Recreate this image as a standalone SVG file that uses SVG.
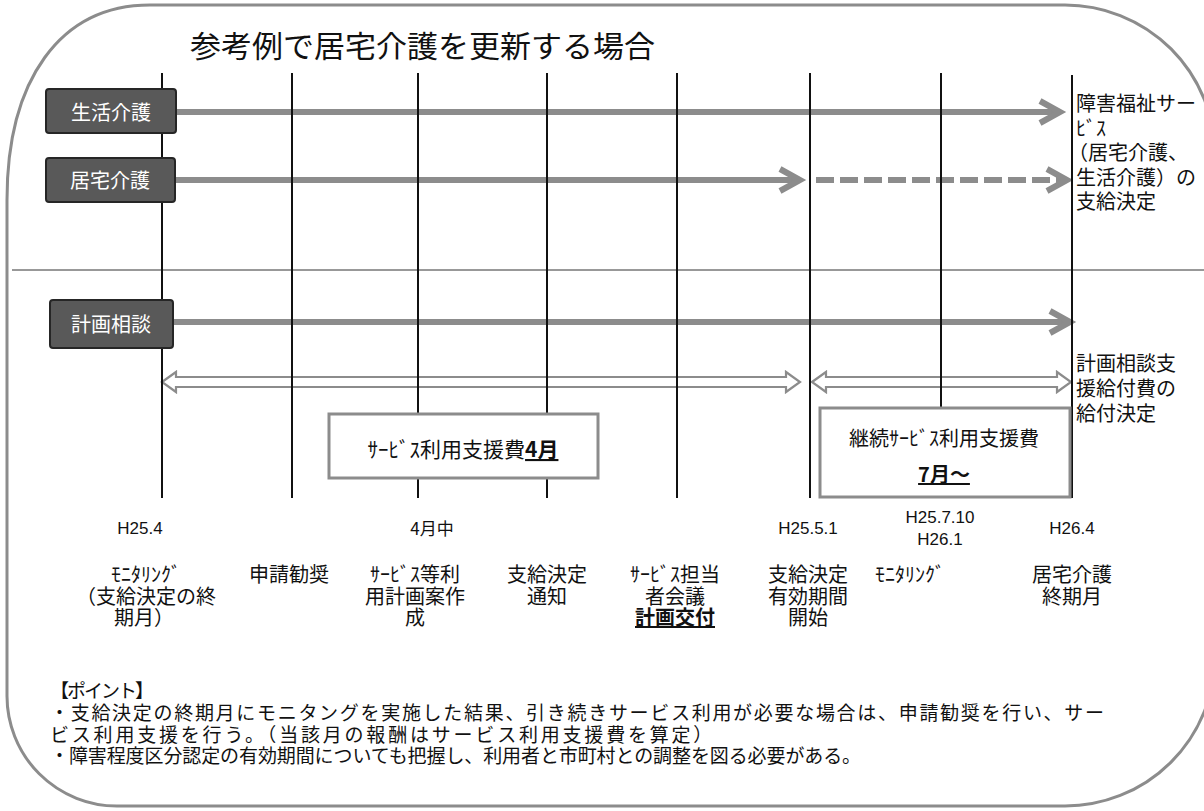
<svg xmlns="http://www.w3.org/2000/svg" width="1204" height="811" viewBox="0 0 1204 811">
<style>
  .jp { font-family: "Noto Sans CJK JP", "Noto Sans", sans-serif; fill: #111; }
  .lat { font-family: "Liberation Sans", "Noto Sans CJK JP", sans-serif; fill: #111; }
  .lbl { font-size: 20px; text-anchor: middle; }
  .date { font-size: 17px; text-anchor: middle; }
  .rowbox { fill: #595959; stroke: #262626; stroke-width: 2; }
  .rowtxt { font-family: "Noto Sans CJK JP", sans-serif; font-size: 20px; fill: #fff; text-anchor: middle; }
  .vline { stroke: #111; stroke-width: 2; }
  .garrow { stroke: #8c8c8c; stroke-width: 6; fill: none; }
  .ghead { stroke: #8c8c8c; stroke-width: 6; fill: none; stroke-linejoin: miter; stroke-linecap: butt; }
  .hollow { fill: #fff; stroke: #8c8c8c; stroke-width: 2.2; stroke-linejoin: miter; }
  .costbox { fill: #fff; stroke: #8c8c8c; stroke-width: 3; }
  .note { font-size: 20px; }
  .bu { font-weight: bold; text-decoration: underline; }
</style>

<g id="frame">
  <path d="M 7,200 C 7,80 60,5 150,5 L 1065,5 A 150 150 0 0 1 1215,155 L 1215,656 A 150 150 0 0 1 1065,806 L 117,806 A 110 110 0 0 1 7,696 Z" fill="none" stroke="#8c8c8c" stroke-width="3"/>
  <line x1="12" y1="270" x2="1204" y2="270" stroke="#333" stroke-width="1"/>
</g>

<g id="title">
  <text class="jp" x="190" y="57" font-size="30" textLength="465" lengthAdjust="spacingAndGlyphs">参考例で居宅介護を更新する場合</text>
</g>

<g id="connectors">
  <!-- 生活介護 -->
  <line class="garrow" x1="176" y1="112" x2="1057" y2="112"/>
  <polyline class="ghead" points="1040,101 1060,112 1040,123"/>
  <!-- 居宅介護 solid -->
  <line class="garrow" x1="175" y1="180" x2="797" y2="180"/>
  <polyline class="ghead" points="780,169 800,180 780,191"/>
  <!-- 居宅介護 dashed -->
  <line class="garrow" x1="816" y1="180" x2="1062" y2="180" stroke-dasharray="18 6"/>
  <polyline class="ghead" points="1047,169 1067,180 1047,191"/>
  <!-- 計画相談 -->
  <line class="garrow" x1="173" y1="322" x2="1067" y2="322"/>
  <polyline class="ghead" points="1050,311 1070,322 1050,333"/>
  <!-- hollow double arrows -->
  <polygon class="hollow" points="162,382 176,372 176,377 786,377 786,372 800,382 786,392 786,387 176,387 176,392"/>
  <polygon class="hollow" points="812,382 826,372 826,377 1057,377 1057,372 1071,382 1057,392 1057,387 826,387 826,392"/>
  <!-- vertical timeline lines -->
  <line class="vline" x1="162" y1="73" x2="162" y2="498"/>
  <line class="vline" x1="292" y1="73" x2="292" y2="498"/>
  <line class="vline" x1="418" y1="73" x2="418" y2="498"/>
  <line class="vline" x1="547" y1="73" x2="547" y2="498"/>
  <line class="vline" x1="677" y1="73" x2="677" y2="498"/>
  <line class="vline" x1="810" y1="73" x2="810" y2="498"/>
  <line class="vline" x1="941" y1="73" x2="941" y2="498"/>
  <line class="vline" x1="1072" y1="75" x2="1072" y2="498"/>
</g>

<g id="node-seikatsu">
  <rect class="rowbox" x="46" y="89" width="130" height="44" rx="3"/>
  <text class="rowtxt" x="111" y="120">生活介護</text>
</g>
<g id="node-kyotaku">
  <rect class="rowbox" x="46" y="158" width="129" height="44" rx="3"/>
  <text class="rowtxt" x="110" y="188">居宅介護</text>
</g>
<g id="node-keikaku">
  <rect class="rowbox" x="50" y="300" width="123" height="48" rx="3"/>
  <text class="rowtxt" x="111" y="332">計画相談</text>
</g>

<g id="node-cost1">
  <rect class="costbox" x="329" y="414" width="269" height="64"/>
  <text class="jp" x="463" y="457" font-size="21" text-anchor="middle">ｻｰﾋﾞｽ利用支援費<tspan class="bu">4月</tspan></text>
</g>
<g id="node-cost2">
  <rect class="costbox" x="820" y="408" width="250" height="89"/>
  <text class="jp" x="944" y="446" font-size="20" text-anchor="middle">継続ｻｰﾋﾞｽ利用支援費</text>
  <text class="jp bu" x="944" y="482" font-size="20" text-anchor="middle">7月～</text>
</g>

<g id="notes-right">
  <text class="jp note" x="1076" y="111">障害福祉サー<tspan x="1076" dy="24.5">ﾋﾞｽ</tspan><tspan x="1068" dy="24.5">（居宅介護、</tspan><tspan x="1076" dy="24.5">生活介護）の</tspan><tspan x="1076" dy="24.5">支給決定</tspan></text>
  <text class="jp note" x="1076" y="371">計画相談支<tspan x="1076" dy="25">援給付費の</tspan><tspan x="1076" dy="25">給付決定</tspan></text>
</g>

<g id="dates">
  <text class="lat date" x="140" y="534">H25.4</text>
  <text class="jp date" x="432" y="535" font-size="19">4月中</text>
  <text class="lat date" x="808" y="534">H25.5.1</text>
  <text class="lat date" x="940" y="523">H25.7.10<tspan x="940" dy="22">H26.1</tspan></text>
  <text class="lat date" x="1072" y="534">H26.4</text>
</g>

<g id="step-monitoring1">
  <text class="jp lbl" x="146" y="582">ﾓﾆﾀﾘﾝｸﾞ<tspan x="146" dy="21.5">（支給決定の終</tspan><tspan x="144" dy="21.5">期月）</tspan></text>
</g>
<g id="step-shinsei">
  <text class="jp lbl" x="289" y="582">申請勧奨</text>
</g>
<g id="step-plan">
  <text class="jp lbl" x="415" y="582">ｻｰﾋﾞｽ等利<tspan x="415" dy="21.5">用計画案作</tspan><tspan x="415" dy="21.5">成</tspan></text>
</g>
<g id="step-notice">
  <text class="jp lbl" x="547" y="582">支給決定<tspan x="547" dy="21.5">通知</tspan></text>
</g>
<g id="step-meeting">
  <text class="jp lbl" x="675" y="582">ｻｰﾋﾞｽ担当<tspan x="675" dy="21.5">者会議</tspan><tspan class="bu" x="675" dy="21.5">計画交付</tspan></text>
</g>
<g id="step-start">
  <text class="jp lbl" x="808" y="582">支給決定<tspan x="808" dy="21.5">有効期間</tspan><tspan x="808" dy="21.5">開始</tspan></text>
</g>
<g id="step-monitoring2">
  <text class="jp lbl" x="910" y="582">ﾓﾆﾀﾘﾝｸﾞ</text>
</g>
<g id="step-end">
  <text class="jp lbl" x="1072" y="582">居宅介護<tspan x="1072" dy="21.5">終期月</tspan></text>
</g>

<g id="points">
  <text class="jp" x="50" y="698" font-size="19"><tspan letter-spacing="-2">【ポイント】</tspan><tspan x="50" y="720" letter-spacing="1.7">・支給決定の終期月にモニタングを実施した結果、引き続きサービス利用が必要な場合は、申請勧奨を行い、サー</tspan><tspan x="50" y="742" letter-spacing="2.8">ビス利用支援を行う。（当該月の報酬はサービス利用支援費を算定）</tspan><tspan x="50" y="763" letter-spacing="-0.1">・障害程度区分認定の有効期間についても把握し、利用者と市町村との調整を図る必要がある。</tspan></text>
</g>
</svg>
